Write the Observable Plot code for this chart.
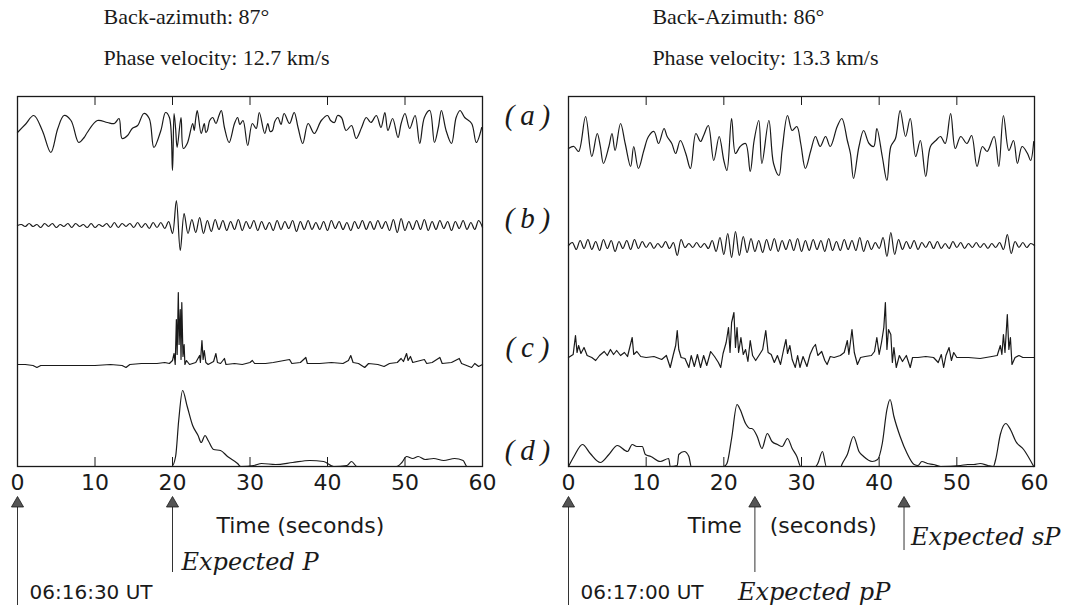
<!DOCTYPE html>
<html><head><meta charset="utf-8">
<script src="https://cdn.jsdelivr.net/npm/d3@7"></script>
<script src="https://cdn.jsdelivr.net/npm/@observablehq/plot@0.6"></script>
<style>
body{margin:0;background:#fff;}
#wrap{display:flex;width:1084px;height:605px;overflow:hidden;}
#wrap svg{overflow:visible;}
</style></head><body><div id="wrap"></div>
<script>
// ---------- data (time in s, amplitude in arbitrary units) ----------
const tickValues = [0, 10, 20, 30, 40, 50, 60];
const innerTicks = [10, 20, 30, 40, 50];
const traceLabels = ["(\u2009a\u2009)", "(\u2009b\u2009)", "(\u2009c\u2009)", "(\u2009d\u2009)"];

const leftTitle = ["Back-azimuth: 87°", "Phase velocity: 12.7 km/s"];
const rightTitle = ["Back-Azimuth: 86°", "Phase velocity: 13.3 km/s"];

const leftA = [[0,-2],[1,6],[2.1,15],[3.2,0],[4.3,-22],[5.2,2],[6.0,15],[6.9,10],[7.9,-12],[8.6,-7],[9.0,-2],[10.3,10],[11.6,8],[12.5,7],[13.1,12],[13.5,-8],[14.2,-5],[14.8,2],[15.5,5],[16.3,17],[17.0,12],[17.6,-17],[18.5,0],[19.1,18],[19.6,13],[20.0,-40],[20.2,17],[20.4,2],[20.6,-17],[21.1,13],[21.4,-18],[21.9,-13],[22.6,7],[22.8,0],[23.0,12],[23.2,20],[23.7,-3],[24.1,7],[24.3,-2],[24.5,0],[24.8,10],[25.2,13],[25.6,7],[26.0,15],[26.3,20],[26.7,3],[27.3,-12],[28.0,7],[28.4,13],[28.7,6],[29.1,10],[29.7,-15],[30.3,7],[30.8,2],[31.2,18],[31.9,-3],[32.3,7],[32.6,-1],[32.9,0],[33.2,9],[33.6,13],[34.0,6],[34.4,17],[35.1,7],[35.7,18],[36.2,3],[36.8,-13],[37.5,7],[38.3,-3],[39.2,10],[40.0,15],[40.4,10],[40.9,8],[41.3,15],[41.8,13],[42.4,0],[43.1,5],[43.7,-8],[44.4,3],[45.0,13],[45.6,8],[46.3,15],[46.9,3],[47.4,18],[47.8,0],[48.4,12],[49.1,-7],[49.5,7],[50.0,17],[50.6,2],[51.3,15],[51.9,-13],[52.5,13],[53.2,20],[53.8,-12],[54.3,3],[54.7,20],[55.3,0],[56.0,-13],[56.6,13],[57.1,20],[57.7,13],[58.6,7],[59.2,-12],[59.9,3]];

const leftB = [0,1,-1,2,-1,1,-2,2,-1,2,-2,1,-1,2,-2,2,-1,1,-2,2,-2,1,-1,2,-2,3,-2,2,-1,2,-2,3,-2,2,-3,3,-2,3,-3,
  4,-8,25,-25,12,-8,6,-7,8,-8,
  5,-6,6,-4,5,-5,4,-4,6,-5,4,-3,5,-5,4,-4,3,-5,5,-4,4,-3,5,-6,4,-4,5,-4,3,-4,4,-5,5,-3,4,-4,3,-5,4,-3,5,-4,4,-4,5,-3,4,-5,6,-7,7,-5,4,-4,5,-4,6,-5,4,-4,5,-3,4,-5,4,-3,5,-4,3,-4,5,-2];

const leftC = [[0,0],[1,0],[2,-1],[2.5,-3],[3,-1],[5,-1],[8,-1],[10,-1],[12,0],[13.5,-1],[14,-3],[14.5,0],[16,1],[17,1],[18,1],[19,2],[19.6,1],[20.0,4],[20.2,11],[20.35,0],[20.5,45],[20.6,10],[20.75,72],[20.85,20],[21.0,55],[21.1,5],[21.2,62],[21.35,8],[21.5,20],[21.6,0],[21.8,4],[22.2,0],[23,2],[23.5,9],[23.6,2],[23.8,24],[23.95,5],[24.1,14],[24.3,2],[24.6,0],[25.3,3],[25.6,11],[25.8,2],[26.2,1],[26.7,6],[26.9,0],[28,1],[29,0],[30,2],[30.3,4],[30.6,1],[32,1],[33,2],[35.1,5],[35.4,1],[36.5,2],[37.2,7],[37.4,1],[39,1],[40.5,2],[42,1],[42.7,4],[43,9],[43.3,2],[44,1],[44.8,-3],[45.3,1],[46.5,0],[47.3,-2],[48,1],[49,2],[49.5,6],[49.8,3],[50.2,11],[50.4,4],[50.7,8],[51,2],[51.5,3],[52.5,5],[52.8,1],[53.5,2],[54.5,7],[54.8,1],[56,2],[57,6],[57.3,1],[58.6,-3],[59,1],[59.5,-2],[60,0]];

const leftD = [[0,0],[19.9,0],[20.4,10],[20.8,46],[21.3,76],[21.9,60],[22.6,41],[23.3,31],[23.7,24],[24.2,31],[24.6,26],[25.3,17],[26.2,16],[27.1,10],[28.4,3],[28.8,0],[30.5,1],[31.5,3],[33.3,2],[35.5,4],[37.7,6],[39.5,5],[40.8,0],[42.5,1],[43.1,5],[43.8,0],[48.9,0],[49.6,4],[50.2,10],[51.0,8],[51.7,10],[52.6,7],[53.7,8],[55.0,6],[56.4,8],[57.5,6],[58,0],[60,0]];

const rightA = [[0,0],[0.7,2],[1.3,-3],[2.2,32],[3.0,-8],[3.7,15],[4.1,2],[4.5,-15],[5.2,2],[5.6,15],[6.0,-2],[6.7,25],[7.3,5],[8.0,-18],[8.4,2],[9.0,-20],[9.7,-2],[10.3,12],[11.0,17],[11.6,5],[12.3,20],[12.7,12],[13.3,5],[13.8,-5],[14.4,8],[15.1,-5],[15.7,-20],[16.4,15],[17.0,7],[17.4,13],[18.0,23],[18.7,-12],[19.4,12],[20.0,-12],[20.4,-22],[21.0,30],[21.5,-5],[22.1,2],[22.8,5],[23.4,-23],[23.9,8],[24.5,28],[24.9,-15],[25.8,28],[26.4,-15],[27.1,-27],[27.5,-2],[28.2,33],[28.8,18],[29.4,22],[29.9,5],[30.5,-20],[31.2,-2],[31.8,12],[32.4,2],[33.1,12],[33.7,2],[34.6,22],[35.2,30],[35.9,8],[36.3,-5],[36.7,-30],[37.4,2],[38.0,18],[38.7,5],[39.3,2],[39.7,20],[40.4,-8],[41.0,-32],[41.5,2],[42.1,10],[42.7,38],[43.4,12],[44.0,30],[44.7,-8],[45.3,8],[46.0,-28],[46.6,2],[47.3,8],[47.9,12],[48.5,5],[49.2,35],[49.8,0],[50.5,12],[51.3,5],[51.9,13],[52.6,-18],[53.3,2],[53.9,-3],[54.8,12],[55.4,-18],[56.0,33],[56.7,-2],[57.3,8],[57.8,-15],[58.4,2],[59.1,-5],[59.5,-12],[59.9,7]];

const rightB = [0,3,-4,5,-3,6,-4,4,-5,6,-3,5,-6,4,-3,5,-4,6,-3,4,-2,3,-3,2,-2,4,-3,
  3,-10,6,-2,
  2,-2,3,-2,2,-3,
  5,-6,8,-9,12,-12,14,-10,9,-7,
  7,-6,5,-7,6,-5,7,-6,5,-4,6,-5,7,-6,5,-5,6,-4,5,-6,7,-5,4,-5,6,-4,5,-5,8,-6,5,-4,3,-3,
  8,-11,13,-9,6,
  -4,4,-3,5,-4,3,-2,4,-3,4,-3,2,-3,4,-2,3,-3,2,-2,3,-2,2,-3,2,-2,
  3,-4,11,-8,4,-2,3,-2,2,0];

const rightC = [[0,0],[0.6,3],[0.9,22],[1.1,5],[1.3,12],[1.6,4],[2.0,10],[2.4,2],[3.0,0],[3.5,-3],[4.0,2],[4.6,6],[5.0,2],[5.4,8],[5.8,3],[6.2,7],[6.7,2],[7.2,5],[7.6,1],[8.2,20],[8.4,3],[8.8,6],[9.3,1],[10.0,0],[11.0,1],[12.0,-2],[12.6,2],[13.1,-10],[13.5,3],[13.8,12],[14.0,27],[14.2,8],[14.5,0],[15.0,-1],[15.5,-10],[15.8,2],[16.2,-9],[16.6,3],[17.0,-10],[17.4,2],[17.8,-8],[18.3,6],[18.8,1],[19.3,-5],[19.6,-10],[19.9,4],[20.3,15],[20.6,30],[20.8,5],[21.0,35],[21.3,45],[21.5,10],[21.7,30],[21.9,5],[22.2,20],[22.5,3],[22.8,8],[23.1,-4],[23.4,17],[23.7,2],[24.1,-3],[24.6,3],[25.0,8],[25.4,27],[25.7,5],[26.1,3],[26.5,-5],[26.9,2],[27.3,-7],[27.7,8],[28.0,18],[28.2,4],[28.5,12],[28.8,-2],[29.2,-10],[29.5,2],[29.8,-10],[30.2,1],[30.7,-9],[31.1,3],[31.5,10],[31.8,13],[32.1,2],[32.6,6],[33.0,-3],[33.3,-7],[33.7,1],[34.2,0],[35.0,2],[35.5,5],[35.9,17],[36.1,3],[36.5,28],[36.8,5],[37.2,-7],[37.6,0],[38.2,1],[39.0,2],[39.4,6],[39.7,20],[40.0,3],[40.3,15],[40.6,30],[40.8,55],[41.0,8],[41.2,28],[41.5,23],[41.7,-5],[41.9,10],[42.2,-10],[42.6,2],[43.0,-4],[43.5,2],[44.0,-10],[44.3,0],[45.0,0],[46.0,1],[47.0,0],[47.6,-5],[48.0,3],[48.3,-10],[48.6,2],[49.0,10],[49.3,-3],[49.6,5],[50.0,0],[51.5,0],[53.0,-1],[54.5,1],[55.2,2],[55.6,12],[55.8,3],[56.0,23],[56.2,5],[56.5,43],[56.7,8],[56.9,20],[57.1,-7],[57.5,0],[58.0,2],[58.5,0],[60,0]];

const rightD = [[0,0],[0.7,10],[1.8,22],[2.8,13],[4.1,4],[5.2,12],[6.3,21],[7.6,15],[8.2,22],[8.8,20],[9.5,20],[9.9,12],[10.6,10],[11.8,5],[12.9,8],[13.1,0],[14.0,1],[14.2,12],[14.9,15],[15.5,10],[15.8,0],[20.0,0],[20.4,3],[21.0,28],[21.7,62],[22.1,57],[22.8,43],[23.4,38],[23.6,38],[24.3,30],[24.9,18],[25.6,33],[26.2,25],[26.9,22],[27.5,20],[28.2,28],[28.8,18],[29.4,10],[29.9,0],[31.8,0],[32.1,3],[32.7,15],[33.2,0],[35.1,0],[35.2,2],[35.9,12],[36.7,30],[37.4,15],[38.0,10],[39.1,5],[39.8,7],[40.4,23],[41.0,57],[41.4,67],[41.9,50],[42.7,30],[43.6,13],[44.5,2],[45.0,1],[45.5,5],[46.2,3],[47.0,2],[47.9,0],[50.5,1],[51.4,2],[52.2,2],[53.0,3],[54.0,1],[54.7,0],[55.0,7],[55.6,32],[56.3,43],[56.9,37],[57.6,25],[58.6,17],[59.9,0]];

// arrival markers (time in s)
const leftArrows = [{t: 0, end: -139}, {t: 20, end: -106}];
const rightArrows = [{t: 0, end: -139}, {t: 24, end: -106}, {t: 43.2, end: -84}];

// ---------- helpers ----------
const pairs = (arr, base) => arr.map(([t, v]) => ({t, y: base + v}));
const steps = (arr, dt, base) => arr.map((v, i) => ({t: i * dt, y: base + v}));
const INK = "#1a1a1a";
const SANS = "DejaVu Sans";
const SERIF = "Liberation Serif";

function panel(o) {
  const marks = [];
  for (const tr of o.traces) marks.push(Plot.line(tr.data, {x: "t", y: "y", curve: tr.curve, stroke: INK, strokeWidth: 1.2}));
  marks.push(
    Plot.frame({stroke: INK, strokeWidth: 1.3}),
    Plot.ruleX(innerTicks, {x: d => d, y1: 370, y2: 361, stroke: INK, strokeWidth: 1}),
    Plot.ruleX(innerTicks, {x: d => d, y1: 0, y2: 9, stroke: INK, strokeWidth: 1}),
    Plot.text(tickValues, {x: d => d, y: -16, text: d => String(d), fontSize: 22, fontFamily: SANS, fill: INK}),
    Plot.text([o.title[0]], {x: o.titleX, y: 450, text: d => d, textAnchor: "start", fontSize: 22, fontFamily: SERIF, fill: INK}),
    Plot.text([o.title[1]], {x: o.titleX, y: 409, text: d => d, textAnchor: "start", fontSize: 22, fontFamily: SERIF, fill: INK}),
    Plot.ruleX(o.arrows, {x: "t", y1: -40, y2: "end", stroke: "#333", strokeWidth: 1}),
    Plot.dot(o.arrows, {x: "t", y: -37, symbol: "triangle", r: 4.5, fill: "#555", stroke: INK, strokeWidth: 0.8})
  );
  for (const tx of o.texts) marks.push(Plot.text([tx.s], {x: tx.x, y: tx.y, dx: tx.dx || 0, text: d => d, textAnchor: tx.anchor || "start", fontSize: tx.size, fontFamily: tx.font, fontStyle: tx.style || "normal", fill: INK}));
  return Plot.plot({
    width: 542, height: 605,
    marginTop: 96, marginBottom: 139, marginLeft: o.ml, marginRight: o.mr,
    x: {domain: [0, 60], axis: null},
    y: {domain: [0, 370], axis: null},
    style: {background: "transparent", overflow: "visible"},
    marks
  });
}

const left = panel({
  ml: 17, mr: 60,
  traces: [
    {data: pairs(leftA, 336), curve: "catmull-rom"},
    {data: steps(leftB, 0.5, 241), curve: "catmull-rom"},
    {data: pairs(leftC, 102), curve: "linear"},
    {data: pairs(leftD, 0), curve: "monotone-x"}
  ],
  title: leftTitle, titleX: 11.1,
  arrows: leftArrows,
  texts: [
    {s: "Time (seconds)", x: 36.5, y: -59, anchor: "middle", size: 22, font: SANS},
    {s: "Expected P", x: 20, dx: 9, y: -96, size: 24, font: "DejaVu Serif", style: "italic"},
    {s: "06:16:30 UT", x: 0, dx: 12, y: -126, size: 20, font: SANS},
    {s: traceLabels[0], x: 65.8, y: 351, anchor: "middle", size: 29, font: SERIF, style: "italic"},
    {s: traceLabels[1], x: 65.8, y: 248, anchor: "middle", size: 29, font: SERIF, style: "italic"},
    {s: traceLabels[2], x: 65.8, y: 119, anchor: "middle", size: 29, font: SERIF, style: "italic"},
    {s: traceLabels[3], x: 65.8, y: 16, anchor: "middle", size: 29, font: SERIF, style: "italic"}
  ]
});

const right = panel({
  ml: 26, mr: 50,
  traces: [
    {data: pairs(rightA, 318), curve: "catmull-rom"},
    {data: steps(rightB, 0.5, 221), curve: "catmull-rom"},
    {data: pairs(rightC, 109), curve: "linear"},
    {data: pairs(rightD, 0), curve: "monotone-x"}
  ],
  title: rightTitle, titleX: 10.8,
  arrows: rightArrows,
  texts: [
    {s: "Time", x: 22.3, y: -59, anchor: "end", size: 22, font: SANS},
    {s: "(seconds)", x: 25.9, y: -59, anchor: "start", size: 22, font: SANS},
    {s: "Expected pP", x: 24, dx: -17, y: -126, size: 24, font: "DejaVu Serif", style: "italic"},
    {s: "Expected sP", x: 43.2, dx: 7, y: -71, size: 24, font: "DejaVu Serif", style: "italic"},
    {s: "06:17:00 UT", x: 0, dx: 12, y: -126, size: 20, font: SANS}
  ]
});

document.getElementById("wrap").append(left, right);
</script></body></html>
